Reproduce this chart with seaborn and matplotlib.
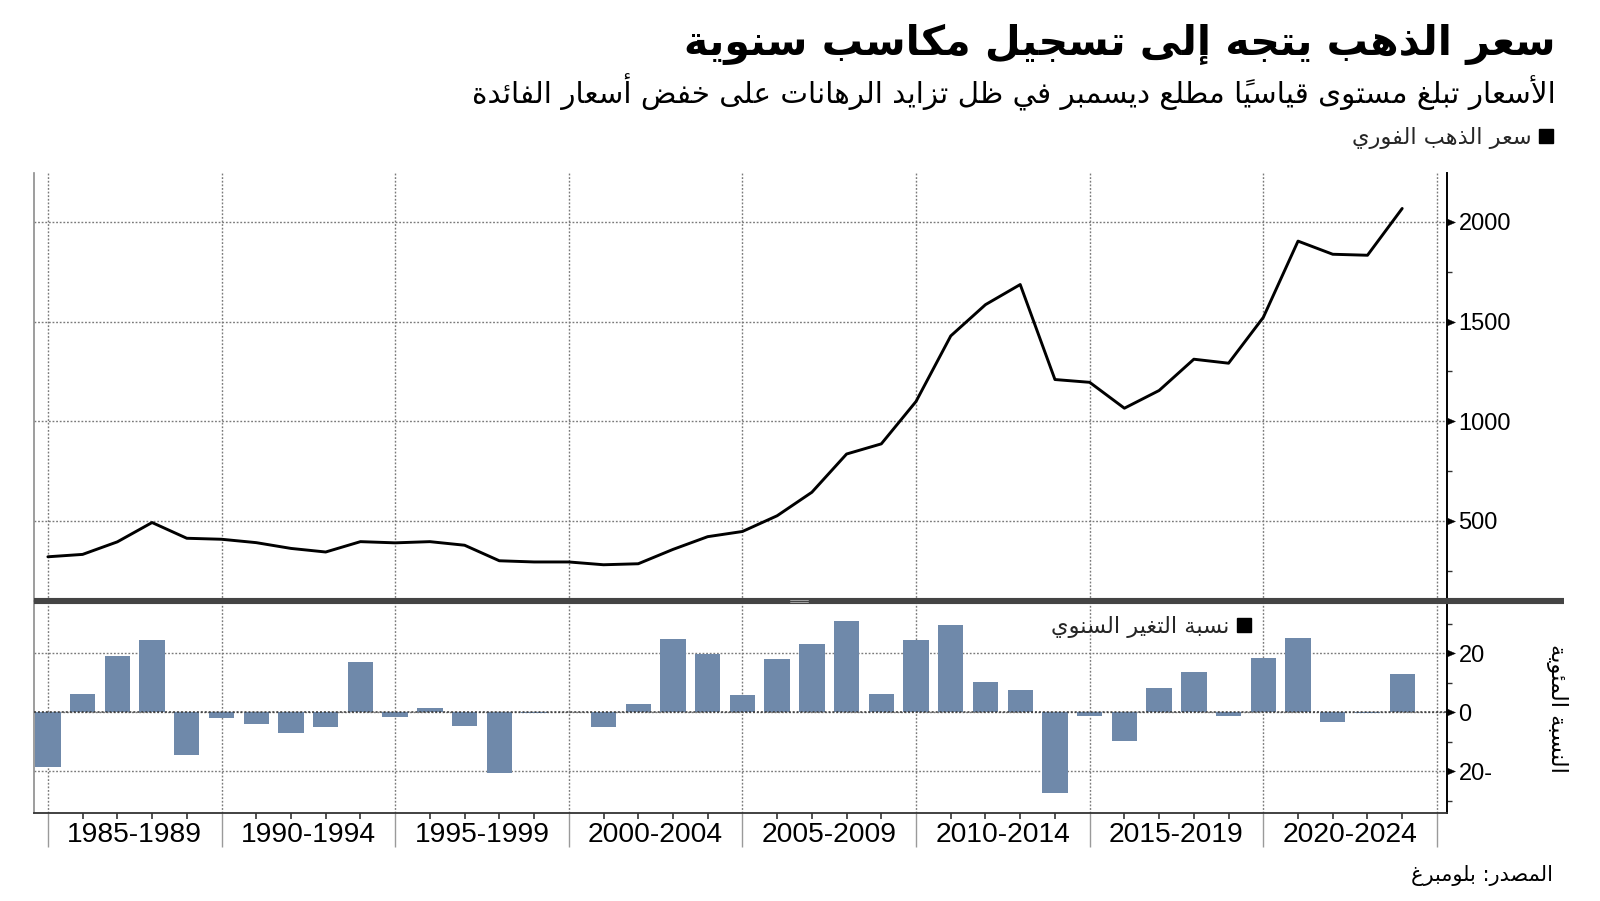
import matplotlib
matplotlib.use("Agg")
import matplotlib.pyplot as plt
from matplotlib.lines import Line2D
from matplotlib.path import Path
from matplotlib.markers import MarkerStyle
from matplotlib.ticker import MultipleLocator, FixedLocator, FuncFormatter
from matplotlib import font_manager
import seaborn as sns
import pandas as pd

# ---------------- data ----------------
years = list(range(1984, 2024))
gold_price = [319, 331, 394, 491, 412, 407, 390, 361, 343, 395,
              389, 395, 377, 299, 293, 293, 279, 284, 356, 420,
              446, 525, 643, 835, 886, 1099, 1428, 1585, 1686, 1209,
              1195, 1065, 1154, 1311, 1291, 1521, 1904, 1838, 1833, 2068]
annual_change = [-18.4, 6.2, 19.2, 24.4, -14.4, -1.9, -4.1, -7.1, -4.9, 17.1,
                 -1.5, 1.5, -4.5, -20.5, -0.3, 0.2, -4.9, 2.8, 24.9, 19.7,
                 5.9, 17.9, 23.2, 30.8, 6.2, 24.4, 29.6, 10.2, 7.6, -27.3,
                 -1.1, -9.6, 8.4, 13.7, -1.1, 18.3, 25.3, -3.2, -0.2, 13.1]
period_labels = ["1985-1989", "1990-1994", "1995-1999", "2000-2004",
                 "2005-2009", "2010-2014", "2015-2019", "2020-2024"]
title_text = "سعر الذهب يتجه إلى تسجيل مكاسب سنوية"
subtitle_text = "الأسعار تبلغ مستوى قياسياً مطلع ديسمبر في ظل تزايد الرهانات على خفض أسعار الفائدة"
price_label = "سعر الذهب الفوري"
change_label = "نسبة التغير السنوي"
change_axis_label = "النسبة المئوية"
source_text = "المصدر: بلومبرغ"

# ---------------- Arabic shaping (presentation forms, visual order) ----------------
_DUAL = {'ئ': 0xFE89, 'ب': 0xFE8F, 'ت': 0xFE95, 'ث': 0xFE99, 'ج': 0xFE9D, 'ح': 0xFEA1,
         'خ': 0xFEA5, 'س': 0xFEB1, 'ش': 0xFEB5, 'ص': 0xFEB9, 'ض': 0xFEBD, 'ط': 0xFEC1,
         'ظ': 0xFEC5, 'ع': 0xFEC9, 'غ': 0xFECD, 'ف': 0xFED1, 'ق': 0xFED5, 'ك': 0xFED9,
         'ل': 0xFEDD, 'م': 0xFEE1, 'ن': 0xFEE5, 'ه': 0xFEE9, 'ي': 0xFEF1}
_RIGHT = {'آ': 0xFE81, 'أ': 0xFE83, 'ؤ': 0xFE85, 'إ': 0xFE87, 'ا': 0xFE8D, 'ة': 0xFE93,
          'د': 0xFEA9, 'ذ': 0xFEAB, 'ر': 0xFEAD, 'ز': 0xFEAF, 'و': 0xFEED, 'ى': 0xFEEF}
_LAMALEF = {'آ': 0xFEF5, 'أ': 0xFEF7, 'إ': 0xFEF9, 'ا': 0xFEFB}
_MARKS = set(chr(c) for c in range(0x064B, 0x0653))


def shape(text):
    toks = []
    chars = list(text)
    i = 0
    while i < len(chars):
        c = chars[i]
        if c in _MARKS and toks:
            toks[-1][2] += c
            i += 1
            continue
        if c == 'ل':
            j = i + 1
            marks = ''
            while j < len(chars) and chars[j] in _MARKS:
                marks += chars[j]
                j += 1
            if j < len(chars) and chars[j] in _LAMALEF:
                toks.append(['R', _LAMALEF[chars[j]], marks])
                i = j + 1
                continue
        if c in _DUAL:
            toks.append(['D', _DUAL[c], ''])
        elif c in _RIGHT:
            toks.append(['R', _RIGHT[c], ''])
        elif c == 'ء':
            toks.append(['U', 0xFE80, ''])
        else:
            toks.append(['N', c, ''])
        i += 1
    out = []
    for k, (kind, base, marks) in enumerate(toks):
        if kind == 'N':
            out.append(base + marks)
            continue
        prev = toks[k - 1][0] if k > 0 else 'N'
        nxt = toks[k + 1][0] if k + 1 < len(toks) else 'N'
        jp = prev == 'D' and kind in 'DR'
        jn = kind == 'D' and nxt in 'DR'
        if kind == 'U':
            off = 0
        elif kind == 'R':
            off = 1 if jp else 0
        else:
            off = 3 if (jp and jn) else 1 if jp else 2 if jn else 0
        out.append(chr(base + off) + marks)
    return ''.join(reversed(out))


# ---------------- style ----------------
sns.set_theme(style="white")
plt.rcParams['font.family'] = ['DejaVu Sans']


def pick(name, fallback):
    try:
        font_manager.findfont(name, fallback_to_default=False)
        return name
    except Exception:
        return fallback


num_font = pick('Liberation Sans Narrow', 'Liberation Sans')
narrow = num_font == 'Liberation Sans Narrow'
ytick_size = 19 if narrow else 17
xtick_size = 21.5 if narrow else 20.3

bar_color = '#6F89AA'
grid_kw = dict(color='#7a7a7a', linestyle=(0, (1.3, 1.3)), linewidth=1.0)

df = pd.DataFrame({'year': years, 'price': gold_price, 'change': annual_change})

fig = plt.figure(figsize=(16, 9.01), dpi=100)
L, W = 34 / 1600, (1447 - 34) / 1600
ax1 = fig.add_axes([L, 1 - 601 / 901, W, (601 - 173) / 901])
ax2 = fig.add_axes([L, 1 - 813 / 901, W, (813 - 601) / 901])

sns.lineplot(data=df, x='year', y='price', color='black', linewidth=2.1, ax=ax1)
sns.barplot(data=df, x='year', y='change', native_scale=True, color=bar_color,
            saturation=1, width=0.73, errorbar=None, linewidth=0, ax=ax2)
ax2.axhline(0, color='#333333', linestyle=(0, (1.3, 1.3)), linewidth=1.1, zorder=3)

bounds = list(range(1984, 2025, 5))
centers = [b + 2.5 for b in bounds[:-1]]

for ax in (ax1, ax2):
    ax.set_xlim(1983.6, 2024.29)
    ax.set_xlabel('')
    ax.set_ylabel('')
    ax.xaxis.set_major_locator(FixedLocator(bounds))
    ax.grid(True, which='major', axis='both', **grid_kw)
    ax.set_axisbelow(True)
    ax.yaxis.tick_right()
    ax.spines['top'].set_visible(False)
    ax.spines['left'].set_color('#8c8c8c')
    ax.spines['left'].set_linewidth(1.2)
    ax.spines['right'].set_color('black')
    ax.spines['right'].set_linewidth(1.4)
    ax.set_facecolor('white')

ax1.set_ylim(97, 2246)
ax1.yaxis.set_major_locator(MultipleLocator(500))
ax1.yaxis.set_minor_locator(MultipleLocator(250))
ax1.spines['bottom'].set_visible(False)
ax1.tick_params(axis='x', which='both', length=0, labelbottom=False)

ax2.set_ylim(-34.1, 37.7)
ax2.yaxis.set_major_locator(MultipleLocator(20))
ax2.yaxis.set_minor_locator(MultipleLocator(10))
ax2.yaxis.set_major_formatter(FuncFormatter(lambda v, p: f"{abs(v):.0f}-" if v < 0 else f"{v:.0f}"))
ax2.spines['bottom'].set_color('#333333')
ax2.spines['bottom'].set_linewidth(1.3)
ax2.xaxis.set_minor_locator(MultipleLocator(1))
ax2.tick_params(axis='x', which='major', length=24.5, width=1.0, color='#9a9a9a',
                labelbottom=False, bottom=True)
ax2.tick_params(axis='x', which='minor', length=4.3, width=1.2, color='#333333', bottom=True)

sec = ax2.secondary_xaxis('bottom')
sec.set_xticks(centers, labels=period_labels)
sec.tick_params(length=0, pad=6.5, labelsize=xtick_size, labelfontfamily=num_font,
                labelcolor='black')
for s in sec.spines.values():
    s.set_visible(False)

tri = Path([(0, -0.42), (1, 0), (0, 0.42), (0, -0.42)],
           [Path.MOVETO, Path.LINETO, Path.LINETO, Path.CLOSEPOLY])
for ax in (ax1, ax2):
    ax.tick_params(axis='y', which='major', left=False, right=True, length=11.5, width=0.3,
                   color='black', pad=-3.2, labelsize=ytick_size, labelfontfamily=num_font,
                   labelcolor='black', labelleft=False, labelright=True)
    ax.tick_params(axis='y', which='minor', left=False, right=True, length=3.6, width=1.0,
                   color='#333333')
    for t in ax.yaxis.get_major_ticks():
        t.tick2line.set_marker(MarkerStyle(tri))

# separator bar between the two panels
fig.add_artist(Line2D([34 / 1600, 1564 / 1600], [1 - 601 / 901] * 2, color='#444444',
                      linewidth=4.4, solid_capstyle='butt', zorder=5))
fig.add_artist(Line2D([790 / 1600, 808 / 1600], [1 - 600 / 901] * 2, color='#b0b0b0',
                      linewidth=0.6, zorder=6))
fig.add_artist(Line2D([790 / 1600, 808 / 1600], [1 - 602 / 901] * 2, color='#b0b0b0',
                      linewidth=0.6, zorder=6))

# legends
sq = dict(marker='s', color='black', linestyle='none', markersize=10)
fig.legend([Line2D([], [], **sq)], [shape(price_label)], loc='center right',
           bbox_to_anchor=(1554 / 1600, 1 - 138 / 901), frameon=False, markerfirst=False,
           handletextpad=0.3, handlelength=0.7, fontsize=16.2, borderpad=0, borderaxespad=0)
ax2.legend([Line2D([], [], **sq)], [shape(change_label)], loc='center right',
           bbox_to_anchor=(1252 / 1600, 1 - 627 / 901), bbox_transform=fig.transFigure,
           frameon=False, markerfirst=False, handletextpad=0.3, handlelength=0.7,
           fontsize=16.2, borderpad=0, borderaxespad=0)

# texts
fig.text(1556 / 1600, 1 - 44 / 901, shape(title_text), ha='right', va='center',
         fontsize=29.6, fontweight='bold', color='black')
fig.text(1556 / 1600, 1 - 92 / 901, shape(subtitle_text), ha='right', va='center',
         fontsize=21.2, color='black')
ax2.set_ylabel(shape(change_axis_label), fontsize=16.2, color='black')
ax2.yaxis.label.set_rotation(-90)
ax2.yaxis.label.set_verticalalignment('center')
ax2.yaxis.label.set_horizontalalignment('center')
ax2.yaxis.set_label_coords(1.078, 0.495)
fig.text(1553 / 1600, 1 - 875 / 901, shape(source_text), ha='right', va='center',
         fontsize=15, color='black')

fig.savefig('out.png', dpi=100, facecolor='white')
